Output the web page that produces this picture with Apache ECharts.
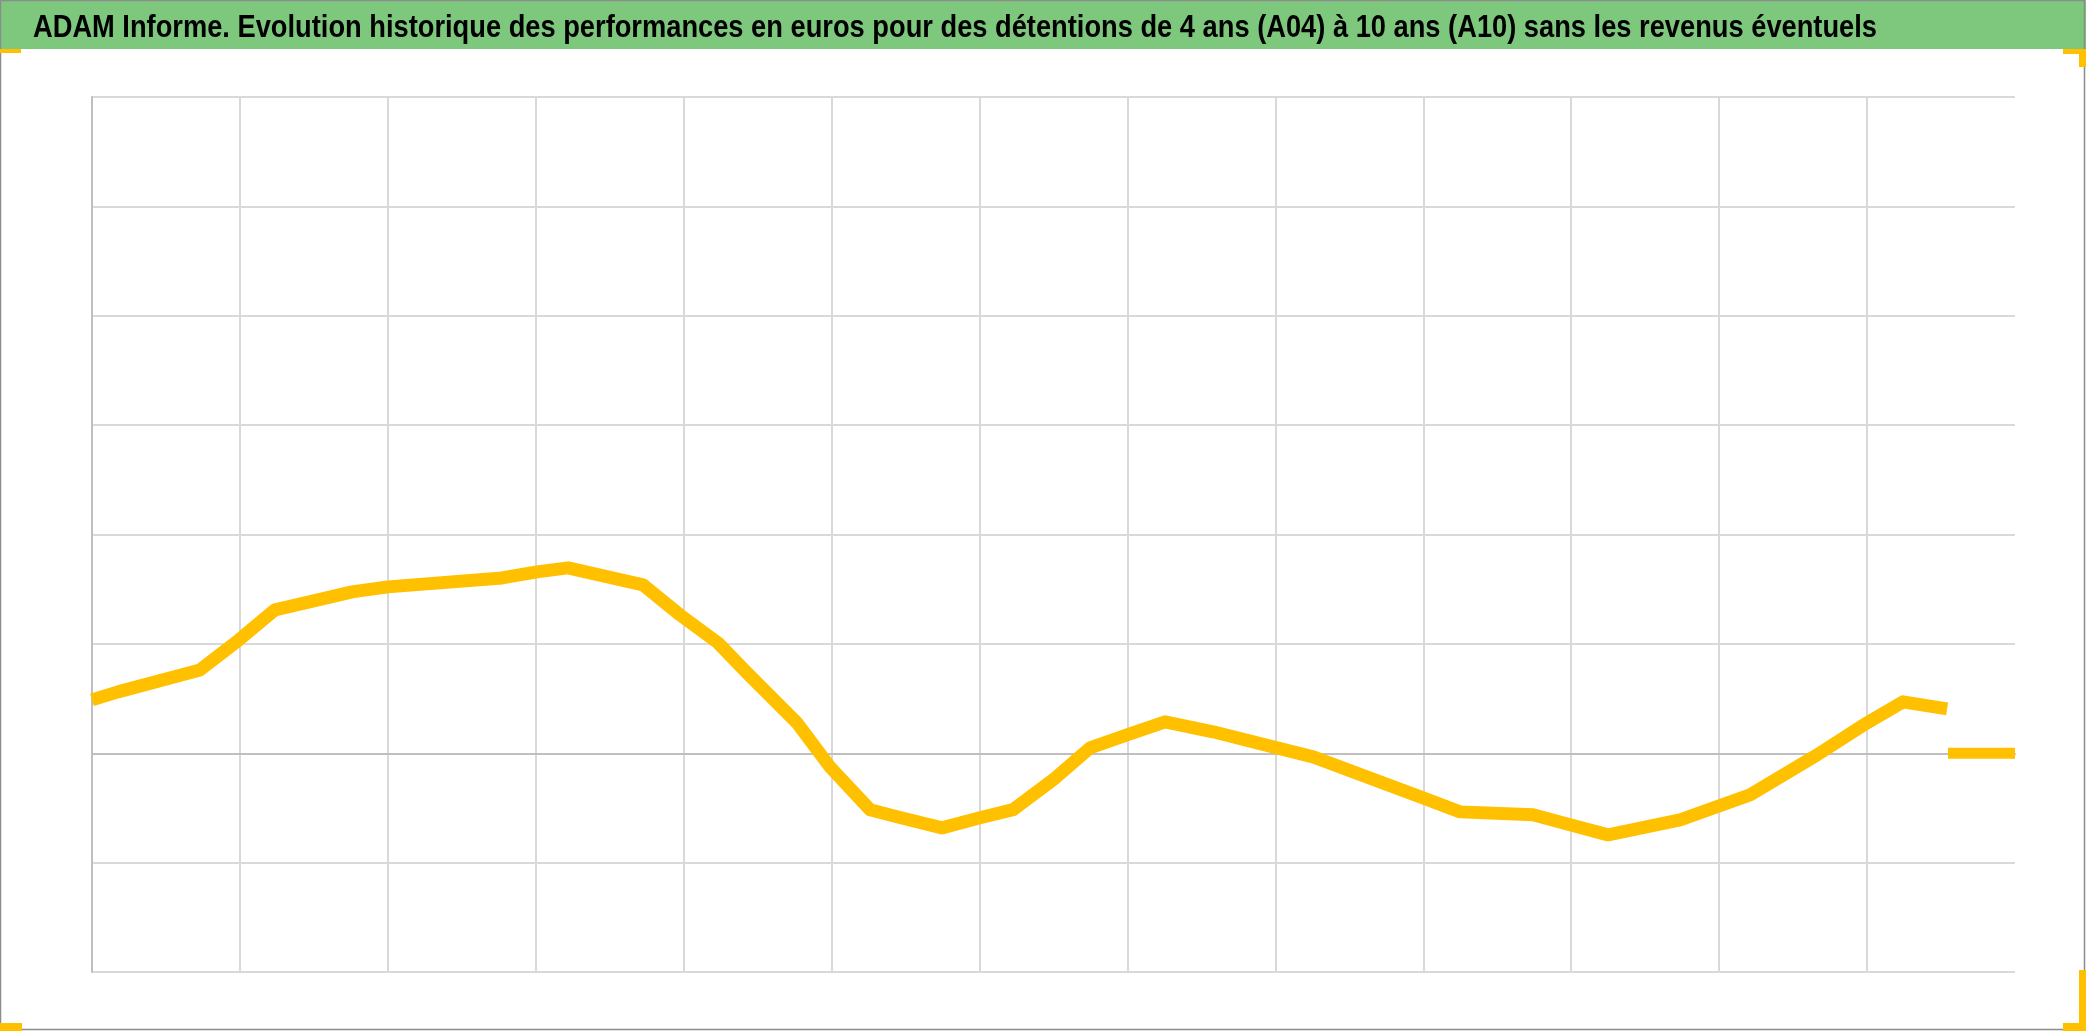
<!DOCTYPE html>
<html>
<head>
<meta charset="utf-8">
<script src="https://cdn.jsdelivr.net/npm/echarts@6/dist/echarts.min.js"></script>
<style>
html,body{margin:0;padding:0;background:#fff;}
#c{width:2086px;height:1031px;}
</style>
</head>
<body>
<div id="c"></div>
<script>
// Chart text
const titleText = "ADAM Informe. Evolution historique des performances en euros pour des détentions de 4 ans (A04) à 10 ans (A10) sans les revenus éventuels";

// Axis ranges (no tick labels are shown in the reference)
const xMin = 0, xMax = 13, xStep = 1;
const yMin = -2, yMax = 6, yStep = 1;

// Main performance curve
const perfX = [0, 0.176, 0.730, 0.994, 1.237, 1.528, 1.758, 2.001, 2.772, 3.008, 3.218, 3.725, 3.975, 4.232, 4.428, 4.766, 4.989, 5.260, 5.442, 5.746, 6.003, 6.226, 6.497, 6.747, 6.997, 7.254, 7.579, 8.011, 8.255, 8.998, 9.248, 9.742, 9.992, 10.249, 10.736, 11.209, 11.662, 12.000, 12.243, 12.541];
const perfY = [0.488, 0.561, 0.762, 1.037, 1.311, 1.402, 1.475, 1.521, 1.603, 1.658, 1.695, 1.539, 1.265, 1.009, 0.735, 0.278, -0.124, -0.517, -0.581, -0.682, -0.590, -0.516, -0.243, 0.049, 0.168, 0.287, 0.196, 0.049, -0.033, -0.408, -0.536, -0.563, -0.654, -0.746, -0.609, -0.380, -0.015, 0.278, 0.470, 0.406];

// Trailing flat segment at zero
const flatX = [12.547, 13];
const flatY = [0, 0];

const chart = echarts.init(document.getElementById('c'), null, {renderer: 'canvas'});
const lineColor = '#FFC000';

// Title font: condense horizontally to match the reference's narrow bold face
const titleFont = 'bold 32px "Liberation Sans", Arial, sans-serif';
const mctx = document.createElement('canvas').getContext('2d');
mctx.font = titleFont;
const titleTargetWidth = 1844;
const titleScaleX = titleTargetWidth / mctx.measureText(titleText).width;

chart.setOption({
  animation: false,
  backgroundColor: '#ffffff',
  grid: {left: 92, right: 71, top: 97, bottom: 59, containLabel: false},
  xAxis: {
    type: 'value', min: xMin, max: xMax, interval: xStep,
    axisLine: {show: true, onZero: true, lineStyle: {color: '#bfbfbf', width: 2}},
    axisTick: {show: false}, axisLabel: {show: false},
    splitLine: {show: true, showMaxLine: false, lineStyle: {color: '#d9d9d9', width: 2}}
  },
  yAxis: {
    type: 'value', min: yMin, max: yMax, interval: yStep,
    axisLine: {show: true, lineStyle: {color: '#bfbfbf', width: 2}},
    axisTick: {show: false}, axisLabel: {show: false},
    splitLine: {show: true, lineStyle: {color: '#d9d9d9', width: 2}}
  },
  series: [
    {
      type: 'line', showSymbol: false, smooth: false,
      data: perfX.map((x, i) => [x, perfY[i]]),
      lineStyle: {color: lineColor, width: 13, join: 'round', cap: 'butt'}, z: 5
    },
    {
      type: 'line', showSymbol: false,
      data: flatX.map((x, i) => [x, flatY[i]]),
      lineStyle: {color: lineColor, width: 11}, z: 5
    }
  ],
  graphic: [
    {type: 'rect', shape: {x: 0, y: 0, width: 2086, height: 49}, style: {fill: '#7DC87D'}, z: 1},
    {type: 'rect', shape: {x: 0.5, y: 0.5, width: 2084, height: 1029}, style: {fill: null, stroke: '#8c8c8c', lineWidth: 1.5}, z: 2},
    {type: 'text', x: 33, y: 28, scaleX: titleScaleX, originX: 0, style: {text: titleText, fill: '#000', font: titleFont, textVerticalAlign: 'middle'}, z: 3},
    {type: 'rect', shape: {x: 0, y: 49, width: 21, height: 4}, style: {fill: lineColor}, z: 4},
    {type: 'rect', shape: {x: 2063, y: 49, width: 23, height: 5}, style: {fill: lineColor}, z: 4},
    {type: 'rect', shape: {x: 2079, y: 49, width: 7, height: 18}, style: {fill: lineColor}, z: 4},
    {type: 'rect', shape: {x: 0, y: 1023, width: 22, height: 8}, style: {fill: lineColor}, z: 4},
    {type: 'rect', shape: {x: 2063, y: 1023, width: 23, height: 8}, style: {fill: lineColor}, z: 4},
    {type: 'rect', shape: {x: 2079, y: 970, width: 7, height: 61}, style: {fill: lineColor}, z: 4}
  ]
});
</script>
</body>
</html>
